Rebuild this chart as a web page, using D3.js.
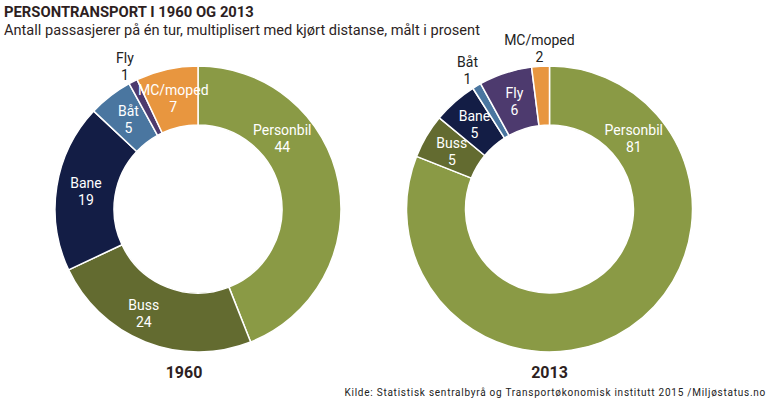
<!DOCTYPE html>
<html><head><meta charset="utf-8">
<script src="https://cdn.jsdelivr.net/npm/d3@7"></script>
<style>
body{margin:0;background:#fff;}
svg{display:block;font-family:Roboto,"Noto Sans",sans-serif;}
</style></head>
<body><svg id="c" width="770" height="400"></svg>
<script>
const categories = ["Personbil","Buss","Bane","Båt","Fly","MC/moped"];
const values1960 = [44,24,19,5,1,7];
const values2013 = [81,5,5,1,6,2];
const years = ["1960","2013"];
const colors = ["#8a9a45","#636b30","#131d45","#4a76a0","#4d3a6e","#e8963f"];
const title = "PERSONTRANSPORT I 1960 OG 2013";
const subtitle = "Antall passasjerer på én tur, multiplisert med kjørt distanse, målt i prosent";
const source = "Kilde: Statistisk sentralbyrå og Transportøkonomisk institutt 2015 /Miljøstatus.no";

const svg = d3.select("#c");
svg.append("text").attr("x",4).attr("y",17).attr("font-size",14.8).attr("font-weight",700)
  .attr("fill","#2e1f1f").text(title);
svg.append("text").attr("x",4).attr("y",35).attr("font-size",14.6).attr("fill","#2e1f1f").text(subtitle);
svg.append("text").attr("x",766).attr("y",396).attr("text-anchor","end").attr("font-size",10)
  .attr("letter-spacing",0.75).attr("fill","#222").text(source);

const outerR = 143, innerR = 84;
const pie = d3.pie().sort(null).value(d=>d.v);
const arc = d3.arc().innerRadius(innerR).outerRadius(outerR);
const color = d3.scaleOrdinal().domain(categories).range(colors);
const centers = [{x:198,y:209},{x:549.5,y:209}];
const datasets = [values1960, values2013];

datasets.forEach((vals,i)=>{
  const data = categories.map((c,j)=>({c, v:vals[j]}));
  const g = svg.append("g").attr("transform",`translate(${centers[i].x},${centers[i].y})`);
  const arcs = pie(data);
  g.selectAll("path").data(arcs).join("path")
    .attr("d",arc).attr("fill",d=>color(d.data.c))
    .attr("stroke","#fff").attr("stroke-width",1.5).attr("stroke-linejoin","round");
  arcs.forEach(d=>{
    const small = d.data.v <= 2;
    let ang = (d.startAngle+d.endAngle)/2;
    let r = small ? 161 : (outerR+innerR)/2;
    if (d.data.c === "Personbil") { ang = 50*Math.PI/180; r = 110; }
    if (i===0 && d.data.c === "Buss") { ang += 6*Math.PI/180; r = 117; }
    const x = r*Math.sin(ang), y = -r*Math.cos(ang);
    const t = g.append("text").attr("text-anchor","middle").attr("font-size",14)
      .attr("fill", small ? "#222" : "#fff");
    t.append("tspan").attr("x",x).attr("y",y-3).text(d.data.c);
    t.append("tspan").attr("x",x).attr("y",y+14).text(d.data.v);
  });
  svg.append("text").attr("x",centers[i].x-(i===0?14:0)).attr("y",378).attr("text-anchor","middle")
    .attr("font-size",16).attr("font-weight",700).attr("fill","#2e1f1f").text(years[i]);
});
</script></body></html>
